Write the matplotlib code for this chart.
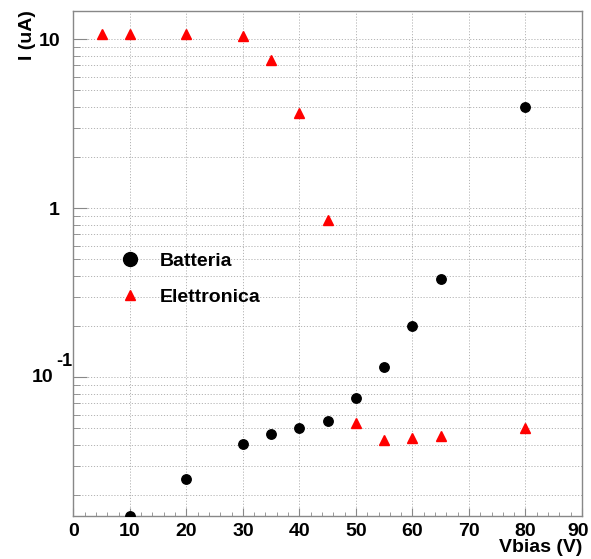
import matplotlib.pyplot as plt
import matplotlib.transforms as mtransforms
import numpy as np
from matplotlib.lines import Line2D
from matplotlib.ticker import FixedLocator, NullFormatter, LogLocator

plt.rcParams['font.family'] = ['Liberation Sans', 'DejaVu Sans']
plt.rcParams['font.weight'] = 'bold'

# Batteria (cerchi neri)
v_batteria = [10, 20, 30, 35, 40, 45, 50, 55, 60, 65, 80]
i_batteria = [0.0152, 0.0250, 0.0401, 0.0461, 0.0501, 0.0551, 0.0755, 0.115, 0.200, 0.380, 4.0]

# Elettronica (triangoli rossi)
v_elettronica = [5, 10, 20, 30, 35, 40, 45, 50, 55, 60, 65, 80]
i_elettronica = [10.8, 10.8, 10.8, 10.5, 7.55, 3.66, 0.85, 0.0535, 0.0426, 0.0440, 0.0450, 0.0499]

etichette = ["Batteria", "Elettronica"]

fig = plt.figure(figsize=(5.91, 5.59), dpi=100)
ax = fig.add_axes([0.124, 0.0769, 0.8608, 0.9043])

ax.plot(v_batteria, i_batteria, 'o', color='black', ms=6.8, zorder=3)
ax.plot(v_elettronica, i_elettronica, '^', color='red', ms=6.8, mec='red', zorder=3)

ax.set_yscale('log')
ax.set_xlim(0, 90)
ax.set_ylim(0.0151, 14.8)

# griglia tratteggiata
ax.xaxis.set_major_locator(FixedLocator(np.arange(0, 91, 10)))
ax.xaxis.set_minor_locator(FixedLocator(np.arange(0, 91, 2)))
ax.yaxis.set_major_locator(FixedLocator([0.1, 1, 10]))
ax.yaxis.set_minor_locator(LogLocator(base=10, subs=np.arange(2, 10), numticks=20))
ax.yaxis.set_minor_formatter(NullFormatter())
ax.grid(True, which='major', axis='x', color='#b4b4b4', ls=(0, (1.2, 1.8)), lw=0.7)
ax.grid(True, which='both', axis='y', color='#b4b4b4', ls=(0, (1.2, 1.8)), lw=0.7)
ax.set_axisbelow(True)

# etichetta 10^-1 fatta a mano, come in ROOT
ax.set_yticklabels(['', '1', '10'])
ax.annotate('10', xy=(0, 0.1), xycoords=('axes fraction', 'data'), xytext=(-14.5, 0),
            textcoords='offset points', ha='right', va='center', fontsize=14, fontweight='bold')
ax.annotate('-1', xy=(0, 0.1), xycoords=('axes fraction', 'data'), xytext=(-0.3, 11.5),
            textcoords='offset points', ha='right', va='center', fontsize=13, fontweight='bold')

for s in ax.spines.values():
    s.set_color('#888888')
    s.set_linewidth(1.0)

ax.tick_params(axis='x', which='major', direction='in', length=6, color='#888888',
               labelsize=14, pad=5, top=False)
ax.tick_params(axis='x', which='minor', direction='in', length=3, color='#888888', top=False)
ax.tick_params(axis='y', which='major', direction='in', length=10, color='#888888',
               labelsize=14, pad=9.5, right=False)
ax.tick_params(axis='y', which='minor', direction='in', length=5, color='#888888', right=False)
for lab in ax.get_yticklabels() + ax.get_xticklabels():
    lab.set_fontweight('bold')

# l'ultima etichetta (90) spostata un po' a sinistra per non uscire dal bordo
ultima = ax.get_xticklabels()[-1]
ultima.set_transform(ultima.get_transform() + mtransforms.ScaledTranslation(-0.04, 0, fig.dpi_scale_trans))

ax.set_xlabel('Vbias (V)', fontsize=14, fontweight='bold', loc='right', labelpad=-1)
ax.set_ylabel('I (uA)', fontsize=14, fontweight='bold', loc='top', labelpad=2)

handles = [Line2D([], [], ls='', marker='o', color='black', ms=10),
           Line2D([], [], ls='', marker='^', color='red', ms=7.5)]
ax.legend(handles, etichette, loc='center left', bbox_to_anchor=(0.095, 0.469),
          frameon=False, prop={'weight': 'bold', 'size': 14},
          handlelength=0.85, handletextpad=1.1, labelspacing=0.95, borderpad=0, borderaxespad=0)

fig.savefig('out.png', dpi=100)
